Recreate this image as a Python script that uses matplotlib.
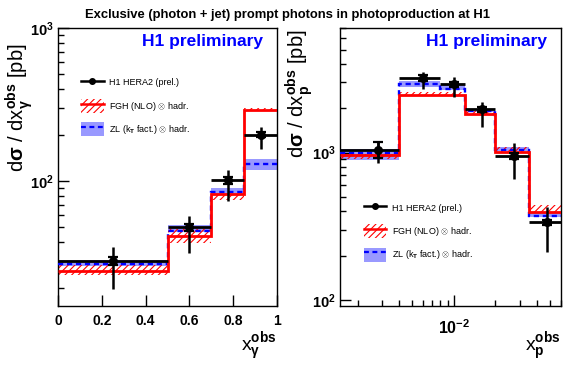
import numpy as np
import matplotlib
matplotlib.use('Agg')
import matplotlib.pyplot as plt
from matplotlib.lines import Line2D
from matplotlib.patches import Patch
from matplotlib.ticker import FixedLocator, FuncFormatter, NullFormatter, LogLocator

plt.rcParams['font.family'] = ['Liberation Sans', 'DejaVu Sans']
plt.rcParams['font.weight'] = 'bold'
plt.rcParams['mathtext.fontset'] = 'custom'
plt.rcParams['mathtext.rm'] = 'Liberation Sans:bold'
plt.rcParams['mathtext.it'] = 'Liberation Sans:bold'
plt.rcParams['mathtext.bf'] = 'Liberation Sans:bold'
plt.rcParams['hatch.linewidth'] = 0.8

# ---- x_gamma panel ----
xg_edges = [0.0, 0.5, 0.7, 0.85, 1.0]
xg_pts = [0.25, 0.6, 0.775, 0.925]
xg_data = [30.0, 49.8, 101.5, 201.0]
xg_tot_up = [37.0, 59.0, 117.0, 224.0]
xg_tot_dn = [19.5, 34.0, 74.0, 161.0]
xg_stat_up = [32.0, 52.5, 106.0, 208.0]
xg_stat_dn = [28.0, 47.0, 96.0, 194.0]
xg_fgh = [25.9, 43.8, 81.8, 291.0]
xg_fgh_lo = [24.3, 39.0, 75.0, 288.0]
xg_fgh_hi = [28.3, 48.4, 82.0, 299.0]
xg_zl = [28.7, 47.0, 84.0, 128.6]
xg_zl_lo = [27.6, 46.0, 82.5, 117.0]
xg_zl_hi = [30.5, 51.6, 89.6, 139.0]

# ---- x_p panel ----
xp_edges = [0.0015, 0.004, 0.008, 0.012, 0.02, 0.035, 0.06]
xp_pts = [0.0028, 0.0060, 0.0101, 0.016, 0.0274, 0.0472]
xp_data = [1040, 3210, 2915, 1960, 951, 340]
xp_tot_up = [1200, 3530, 3270, 2210, 1155, 425]
xp_tot_dn = [845, 2680, 2390, 1480, 658, 210]
xp_stat_up = [1180, 3350, 3030, 2040, 1000, 350]
xp_stat_dn = [920, 3080, 2800, 1880, 900, 322]
xp_fgh_edges = [0.0015, 0.004, 0.012, 0.02, 0.035, 0.06]
xp_fgh = [962, 2465, 1825, 1013, 397]
xp_fgh_lo = [900, 2440, 1830, 1015, 397]
xp_fgh_hi = [975, 2570, 1925, 1090, 440]
xp_zl = [990, 2910, 2700, 1920, 1035, 370]
xp_zl_lo = [890, 2795, 2650, 1890, 1025, 363]
xp_zl_hi = [1050, 3055, 2870, 1990, 1095, 393]

BLUE_BAND = '#9999ff'


def band(ax, edges, lo, hi, **kw):
    edges = np.asarray(edges)
    lo = np.asarray(lo, float)
    hi = np.asarray(hi, float)
    ax.bar(edges[:-1], hi - lo, width=np.diff(edges), bottom=lo,
           align='edge', **kw)


def draw_panel(ax, edges, pts, data, tup, tdn, sup, sdn,
               fedges, fgh, flo, fhi, zl, zlo, zhi):
    band(ax, edges, zlo, zhi, color=BLUE_BAND, lw=0, zorder=1)
    band(ax, fedges, flo, fhi, facecolor='none', edgecolor='red',
         hatch='/////', lw=0, zorder=2)
    ax.stairs(zl, edges, baseline=None, color='blue', lw=1.7,
              ls=(0, (2.2, 1.6)), zorder=3)
    ax.stairs(fgh, fedges, baseline=None, color='red', lw=2.0, zorder=4)
    edges = np.asarray(edges)
    data = np.asarray(data, float)
    ax.hlines(data, edges[:-1], edges[1:], color='k', lw=2.0, zorder=5)
    ax.errorbar(pts, data, yerr=[data - np.asarray(tdn), np.asarray(tup) - data],
                fmt='none', ecolor='k', elinewidth=1.8, capsize=0, zorder=6)
    ax.errorbar(pts, data, yerr=[data - np.asarray(sdn), np.asarray(sup) - data],
                fmt='o', color='k', ms=5.5, elinewidth=1.8, capsize=3.5,
                capthick=1.6, zorder=7)


def add_legend(ax, anchor):
    handles = [
        Line2D([], [], color='k', lw=1.8, marker='o', ms=4),
        (Patch(facecolor='none', edgecolor='red', hatch='/////', lw=0),
         Line2D([], [], color='red', lw=1.8)),
        (Patch(facecolor=BLUE_BAND, lw=0),
         Line2D([], [], color='blue', lw=1.6, ls=(0, (2.2, 1.6)))),
    ]
    labels = ['H1 HERA2 (prel.)', r'FGH (NLO) $\otimes$ hadr.',
              r'ZL (k$_T$ fact.) $\otimes$ hadr.']
    ax.legend(handles, labels, loc='upper left', bbox_to_anchor=anchor,
              frameon=False, prop={'size': 6.5, 'weight': 'normal'},
              handlelength=2.5, handleheight=2.0, labelspacing=1.05,
              handletextpad=0.6, borderpad=0, numpoints=1)


def bold_pow(v, pos):
    e = int(round(np.log10(v)))
    return r'$\mathbf{10^{%d}}$' % e


fig = plt.figure(figsize=(5.71, 3.67), dpi=100)
ax1 = fig.add_axes([0.1016, 0.1662, 0.3835, 0.7575])
ax2 = fig.add_axes([0.596, 0.1662, 0.3865, 0.7575])

draw_panel(ax1, xg_edges, xg_pts, xg_data, xg_tot_up, xg_tot_dn,
           xg_stat_up, xg_stat_dn, xg_edges, xg_fgh, xg_fgh_lo, xg_fgh_hi,
           xg_zl, xg_zl_lo, xg_zl_hi)
draw_panel(ax2, xp_edges, xp_pts, xp_data, xp_tot_up, xp_tot_dn,
           xp_stat_up, xp_stat_dn, xp_fgh_edges, xp_fgh, xp_fgh_lo, xp_fgh_hi,
           xp_zl, xp_zl_lo, xp_zl_hi)

# left axes
ax1.set_yscale('log')
ax1.set_xlim(0, 1)
ax1.set_ylim(15.2, 1000)
ax1.xaxis.set_major_locator(FixedLocator([0, 0.2, 0.4, 0.6, 0.8, 1.0]))
ax1.set_xticklabels(['0', '0.2', '0.4', '0.6', '0.8', '1'])

# right axes
ax2.set_xscale('log')
ax2.set_yscale('log')
ax2.set_xlim(0.0015, 0.06)
ax2.set_ylim(91, 7000)

for ax in (ax1, ax2):
    ax.yaxis.set_major_locator(LogLocator(base=10))
    ax.yaxis.set_minor_locator(LogLocator(base=10, subs=np.arange(2, 10)))
    ax.yaxis.set_major_formatter(FuncFormatter(bold_pow))
    ax.yaxis.set_minor_formatter(NullFormatter())
    ax.tick_params(which='both', direction='in', top=False, right=False,
                   labelsize=10, width=1)
    ax.tick_params(axis='y', labelsize=10.5, pad=3)
    ax.tick_params(which='major', length=8)
    ax.tick_params(which='minor', length=4)
    ax.tick_params(axis='x', pad=6)
    for s in ax.spines.values():
        s.set_linewidth(1.0)
    ax.text(0.935, 0.95, 'H1 preliminary', transform=ax.transAxes,
            ha='right', va='center', color='blue', fontsize=12.5,
            fontweight='bold')

ax2.xaxis.set_major_locator(LogLocator(base=10))
ax2.xaxis.set_minor_locator(LogLocator(base=10, subs=np.arange(2, 10)))
ax2.xaxis.set_major_formatter(FuncFormatter(bold_pow))
ax2.xaxis.set_minor_formatter(NullFormatter())
ax2.tick_params(axis='x', pad=9, labelsize=11.5)

ax1.set_ylabel(r'd$\sigma$ / dx$_{\gamma}^{\mathbf{obs}}$ [pb]', fontsize=14.5,
               loc='top')
ax1.yaxis.set_label_coords(-0.105, 0.946)
ax2.set_ylabel(r'd$\sigma$ / dx$_{\mathbf{p}}^{\mathbf{obs}}$ [pb]', fontsize=14.5,
               loc='top')
ax2.yaxis.set_label_coords(-0.115, 0.996)

ax1.set_xlabel(r'x$_{\gamma}^{\mathbf{obs}}$', fontsize=14, loc='right')
ax1.xaxis.set_label_coords(1.0, -0.09)
ax2.set_xlabel(r'x$_{\mathbf{p}}^{\mathbf{obs}}$', fontsize=14, loc='right')
ax2.xaxis.set_label_coords(1.0, -0.09)
ax1.xaxis.label.set_va('top')
ax2.xaxis.label.set_va('top')

add_legend(ax1, (0.085, 0.845))
add_legend(ax2, (0.085, 0.395))

fig.text(0.504, 1 - 15 / 367, 'Exclusive (photon + jet) prompt photons in photoproduction at H1',
         ha='center', va='center', fontsize=9.4, fontweight='bold')

fig.savefig('out.png', dpi=100)
